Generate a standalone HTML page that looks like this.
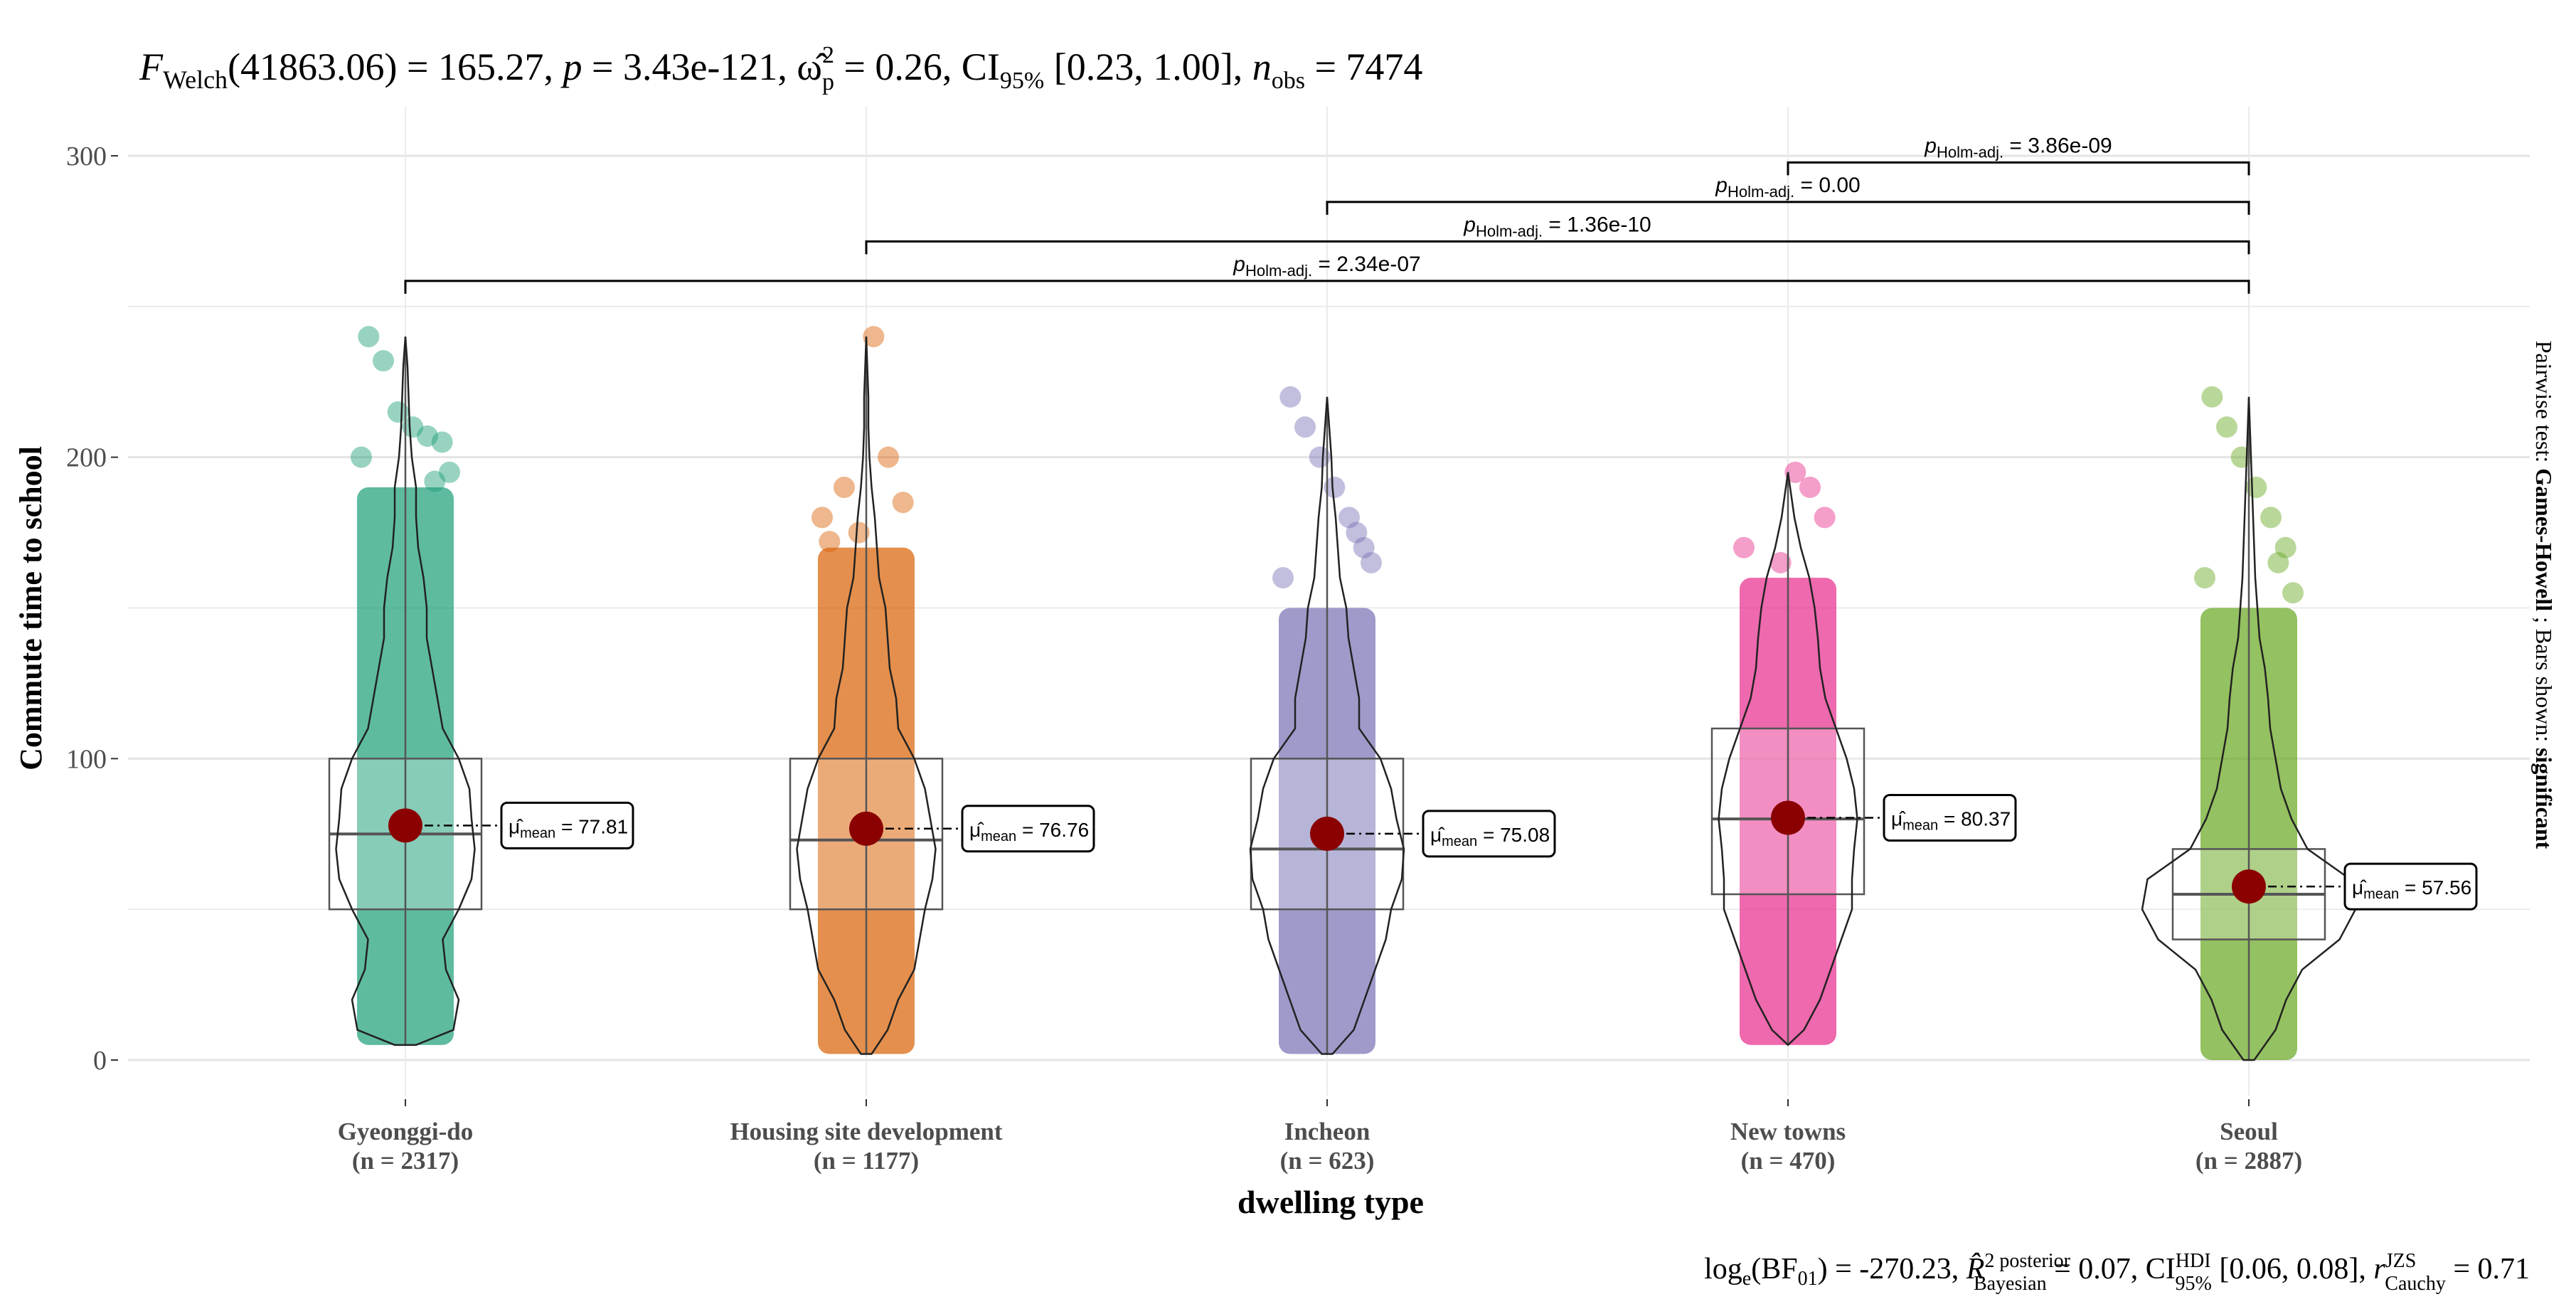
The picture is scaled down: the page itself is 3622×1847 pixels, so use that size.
<!DOCTYPE html>
<html><head><meta charset="utf-8"><style>
body{margin:0;background:#fff}
svg{display:block}
.serif{font-family:"Liberation Serif",serif}
.sans{font-family:"Liberation Sans",sans-serif}
</style></head><body>
<svg id="chart" width="3622" height="1847" viewBox="0 0 3622 1847" xmlns="http://www.w3.org/2000/svg">
<g id="grid"></g>
<g id="marks"></g>
<g id="axes"></g>
<text class="serif" x="196" y="112" font-size="54" fill="#000"><tspan font-style="italic">F</tspan><tspan font-size="36" dy="12">Welch</tspan><tspan dy="-12">(41863.06) = 165.27, </tspan><tspan font-style="italic">p</tspan><tspan> = 3.43e-121, ω̂</tspan><tspan font-size="34" dy="14">p</tspan><tspan font-size="34" dx="-17" dy="-38">2</tspan><tspan dy="24"> = 0.26, CI</tspan><tspan font-size="34" dy="12">95%</tspan><tspan dy="-12"> [0.23, 1.00], </tspan><tspan font-style="italic">n</tspan><tspan font-size="34" dy="12">obs</tspan><tspan dy="-12"> = 7474</tspan></text>
<text class="serif" transform="translate(58,855) rotate(-90)" text-anchor="middle" font-size="44" font-weight="bold">Commute time to school</text>
<text class="serif" x="1871" y="1705" text-anchor="middle" font-size="46" font-weight="bold">dwelling type</text>
<text class="serif" transform="translate(3566,836) rotate(90)" text-anchor="middle" font-size="32">Pairwise test: <tspan font-weight="bold">Games-Howell</tspan> ; Bars shown: <tspan font-weight="bold">significant</tspan></text>
<text class="serif" x="3557" y="1797" text-anchor="end" font-size="42">log<tspan font-size="28" dy="9">e</tspan><tspan dy="-9">(BF</tspan><tspan font-size="28" dy="9">01</tspan><tspan dy="-9">) = -270.23, </tspan><tspan font-style="italic">R̂</tspan><tspan font-size="28" dy="-16">2 posterior</tspan><tspan font-size="28" dx="-136" dy="32">Bayesian</tspan><tspan dy="-16"> = 0.07, CI</tspan><tspan font-size="28" dy="-16">HDI</tspan><tspan font-size="28" dx="-50" dy="32">95%</tspan><tspan dy="-16"> [0.06, 0.08], </tspan><tspan font-style="italic">r</tspan><tspan font-size="28" dy="-16">JZS</tspan><tspan font-size="28" dx="-44" dy="32">Cauchy</tspan><tspan dy="-16"> = 0.71</tspan></text>
</svg>
<script>
const categories=["Gyeonggi-do","Housing site development","Incheon","New towns","Seoul"];
const counts=[2317,1177,623,470,2887];
const colors=["#1B9E77","#D95F02","#7570B3","#E7298A","#66A61E"];
const means=[77.81,76.76,75.08,80.37,57.56];
const q1=[50,50,50,55,40];
const medians=[75,73,70,80,55];
const q3=[100,100,100,110,70];
const mins=[5,2,2,5,0];
const maxs=[240,240,220,195,220];
const denseLo=[5,2,2,5,0];
const denseHi=[190,170,150,160,150];
const outliers=[[200,205,207,210,215,232,240,195,192],[180,185,200,240,175,190,172],[160,170,180,190,200,210,220,165,175],[170,180,190,195,165],[160,170,180,190,200,210,220,155,165]];
const violinLevels=[0,10,20,30,40,50,60,70,80,90,100,110,120,130,140,150,160,170,180,190,200,210,220,230,240];
const violinDens=[
[0.1,0.45,0.5,0.38,0.35,0.5,0.62,0.65,0.62,0.6,0.5,0.35,0.3,0.25,0.2,0.2,0.17,0.12,0.1,0.1,0.06,0.04,0.03,0.02,0],
[0.05,0.2,0.3,0.45,0.5,0.55,0.62,0.65,0.6,0.55,0.45,0.3,0.28,0.22,0.2,0.18,0.12,0.1,0.08,0.05,0.03,0.02,0.02,0.01,0],
[0.05,0.25,0.35,0.45,0.55,0.6,0.7,0.72,0.65,0.6,0.5,0.3,0.3,0.25,0.2,0.18,0.12,0.1,0.08,0.05,0.04,0.02,0,0,0],
[0,0.15,0.3,0.4,0.5,0.6,0.6,0.62,0.65,0.62,0.55,0.45,0.35,0.3,0.28,0.25,0.2,0.12,0.06,0.02,0,0,0,0,0],
[0.05,0.25,0.35,0.5,0.85,1.0,0.95,0.55,0.4,0.3,0.25,0.2,0.18,0.15,0.1,0.08,0.06,0.05,0.04,0.03,0.02,0.01,0,0,0]];
const yTicks=[0,100,200,300];
const yMinor=[50,150,250];
const pairs=[[0,4],[1,4],[2,4],[3,4]];
const pairY=[258.5,271.6,284.7,297.8];
const pairLabels=["2.34e-07","1.36e-10","0.00","3.86e-09"];

const NS="http://www.w3.org/2000/svg";
const X0=180,X1=3557;
function x(i){return 570+i*648;}
function y(v){return 1490-v*(1271/300);}
function mk(t,a,p){const e=document.createElementNS(NS,t);for(const k in a)e.setAttribute(k,a[k]);p.appendChild(e);return e;}
const grid=document.getElementById('grid'),marks=document.getElementById('marks'),axes=document.getElementById('axes');
yMinor.forEach(v=>{const l=mk('line',{x1:X0,x2:X1,y1:y(v),y2:y(v),stroke:'#ebebeb','stroke-width':2},grid);

});
yTicks.forEach(v=>{const l=mk('line',{x1:X0,x2:X1,y1:y(v),y2:y(v),stroke:'#e4e4e4','stroke-width':3},grid);


const t=mk('text',{x:150,y:y(v)+13,'text-anchor':'end','font-size':38,fill:'#4d4d4d',class:'serif'},axes);t.textContent=v;


mk('line',{x1:156,x2:166,y1:y(v),y2:y(v),stroke:'#333','stroke-width':2},axes);});
categories.forEach((c,i)=>{const cx=x(i);
const g=mk('line',{x1:cx,x2:cx,y1:150,y2:1540,stroke:'#ebebeb','stroke-width':2},grid);


mk('line',{x1:cx,x2:cx,y1:1545,y2:1555,stroke:'#333','stroke-width':2},axes);
const t=mk('text',{x:cx,y:1602,'text-anchor':'middle','font-size':35,'font-weight':'bold',fill:'#4d4d4d',class:'serif'},axes);t.textContent=c;


const t2=mk('text',{x:cx,y:1643,'text-anchor':'middle','font-size':35,'font-weight':'bold',fill:'#4d4d4d',class:'serif'},axes);t2.textContent="(n = "+counts[i]+")";


const grp=mk('g',{},marks);


const strip=mk('rect',{x:cx-68,y:y(denseHi[i]),width:136,height:y(denseLo[i])-y(denseHi[i]),fill:colors[i],'fill-opacity':0.7,rx:16},grp);


outliers[i].forEach((v,k)=>{const off=(((k*37)%13)-6)/6*62;
const p=mk('circle',{cx:cx+off,cy:y(v),r:15,fill:colors[i],'fill-opacity':0.45},grp);

});
const box=mk('rect',{x:cx-107,y:y(q3[i]),width:214,height:y(q1[i])-y(q3[i]),fill:'#fff','fill-opacity':0.25,stroke:'#555','stroke-width':2.5},grp);


const wh=mk('line',{x1:cx,x2:cx,y1:y(maxs[i]),y2:y(mins[i]),stroke:'#555','stroke-width':2.5},grp);


const md=mk('line',{x1:cx-107,x2:cx+107,y1:y(medians[i]),y2:y(medians[i]),stroke:'#555','stroke-width':4},grp);


let R=[],L=[];violinLevels.forEach((lv,k)=>{if(lv<mins[i]-5||lv>maxs[i])return;const vv=Math.max(lv,mins[i]);const w=violinDens[i][k]*150;R.push((cx+w)+','+y(vv));L.unshift((cx-w)+','+y(vv));});
R.push(cx+','+y(maxs[i]));
const vi=mk('polygon',{points:R.concat(L).join(' '),fill:'none',stroke:'#222','stroke-width':2.5},grp);


const bx=cx+135,by=y(means[i]);
mk('line',{x1:cx,x2:bx,y1:by,y2:by,stroke:'#000','stroke-width':2.5,'stroke-dasharray':'12 6 3 6'},grp);
const mp=mk('circle',{cx:cx,cy:by,r:24,fill:'#8B0000'},grp);


const lb=mk('rect',{x:bx,y:by-32,width:185,height:64,rx:8,fill:'#fff',stroke:'#000','stroke-width':3},grp);


const lt=mk('text',{x:bx+10,y:by+11,'font-size':28,class:'sans'},grp);
lt.innerHTML='μ̂<tspan font-size="20" dy="6">mean</tspan><tspan dy="-6"> = '+means[i].toFixed(2)+'</tspan>';


});
pairs.forEach((p,k)=>{const a=x(p[0]),b=x(p[1]),yy=y(pairY[k]);
const br=mk('polyline',{points:a+','+(yy+18)+' '+a+','+yy+' '+b+','+yy+' '+b+','+(yy+18),fill:'none',stroke:'#000','stroke-width':3},marks);


const t=mk('text',{x:(a+b)/2,y:yy-14,'text-anchor':'middle','font-size':30,class:'sans'},marks);
t.innerHTML='<tspan font-style="italic">p</tspan><tspan font-size="22" dy="7">Holm-adj.</tspan><tspan dy="-7"> = '+pairLabels[k]+'</tspan>';

});
</script>
</body></html>
